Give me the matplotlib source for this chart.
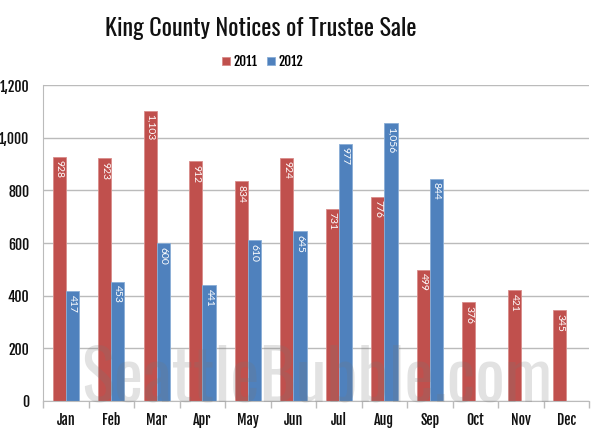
import matplotlib
matplotlib.use("Agg")
import matplotlib.pyplot as plt
import numpy as np
from matplotlib.ticker import FuncFormatter, FixedLocator

months = ["Jan", "Feb", "Mar", "Apr", "May", "Jun", "Jul", "Aug", "Sep", "Oct", "Nov", "Dec"]
sales_2011 = [928, 923, 1103, 912, 834, 924, 731, 776, 499, 376, 421, 345]
sales_2012 = [417, 453, 600, 441, 610, 645, 977, 1056, 844]

RED = "#C0504D"
BLUE = "#4F81BD"
HEAD = ["Oswald", "DejaVu Sans"]
TICK = ["Fjalla One", "DejaVu Sans"]
SMALL = ["Lato", "DejaVu Sans"]
MARK = ["Oswald", "DejaVu Sans"]

plt.rcParams["font.family"] = HEAD


def fit_width(fig, txt, target_px):
    """テキスト幅が target_px になるようにフォントサイズを合わせる。"""
    r = fig.canvas.get_renderer()
    for _ in range(3):
        wpx = txt.get_window_extent(renderer=r).width
        txt.set_fontsize(txt.get_fontsize() * target_px / wpx)


fig = plt.figure(figsize=(6.0, 4.36), dpi=100)
ax = fig.add_axes([0.0717, 0.0803, 0.9103, 0.7247])

x = np.arange(len(months))
w = 0.29

bars_a = ax.bar(x[: len(sales_2011)] - w / 2, sales_2011, w, color=RED,
                edgecolor="#D98C8A", linewidth=0.6, label="2011", zorder=2)
bars_b = ax.bar(x[: len(sales_2012)] + w / 2, sales_2012, w, color=BLUE,
                edgecolor="#8AAED6", linewidth=0.6, label="2012", zorder=2)

for bars in (bars_a, bars_b):
    for b in bars:
        v = b.get_height()
        ax.text(b.get_x() + b.get_width() / 2, v - 14, f"{int(v):,}",
                rotation=-90, ha="center", va="top", color="white",
                fontsize=7.5, family=SMALL, zorder=3)

ax.set_xlim(-0.5, len(months) - 0.5)
ax.set_ylim(0, 1200)
ax.set_yticks(range(0, 1201, 200))
ax.yaxis.set_major_formatter(FuncFormatter(lambda v, p: f"{int(v):,}"))
ax.grid(axis="y", color="#BBBBBB", linewidth=1.0, zorder=0)
ax.set_axisbelow(True)

ax.set_xticks(x)
ax.set_xticklabels(months)
ax.tick_params(axis="x", length=0, pad=8)
ax.xaxis.set_minor_locator(FixedLocator(np.arange(-0.5, len(months), 1.0)))
ax.tick_params(axis="x", which="minor", length=5, color="#BBBBBB", width=1)
ax.tick_params(axis="y", length=0, pad=10)

for lab in ax.get_xticklabels() + ax.get_yticklabels():
    lab.set_family(TICK)
    lab.set_fontsize(10)
    lab.set_color("#111111")

for s in ["top", "right"]:
    ax.spines[s].set_visible(False)
ax.spines["left"].set_color("#BBBBBB")
ax.spines["bottom"].set_color("#BBBBBB")

title = fig.text(0.435, 0.935, "King County Notices of Trustee Sale", ha="center", va="center",
                 fontsize=18, color="#111111")

leg = fig.legend(handles=[bars_a, bars_b], labels=["2011", "2012"], loc="center",
                 bbox_to_anchor=(0.438, 0.86), ncol=2, frameon=False,
                 handlelength=0.6, handleheight=0.6, handletextpad=0.3,
                 columnspacing=0.7, prop={"size": 9.5, "family": TICK})

# 透かし文字
mark = fig.text(0.5283, 1 - 401 / 436, "SeattleBubble.com", ha="center", va="baseline",
                fontsize=54, color="#777777", alpha=0.21, family=MARK,
                fontweight="bold", zorder=10)

fig.canvas.draw()
fit_width(fig, title, 312)
fit_width(fig, mark, 471)

fig.savefig("out.png", dpi=100, facecolor="white")
